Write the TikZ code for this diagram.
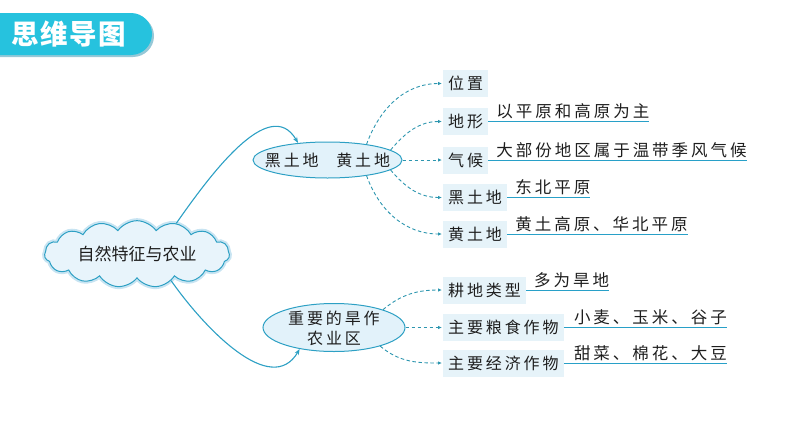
\documentclass[tikz,border=0pt]{standalone}
\usepackage{fontspec}
\setmainfont{Noto Sans CJK SC}
\newfontfamily\kai[LetterSpace=18]{Noto Sans CJK SC}
\newfontfamily\ttlfont[LetterSpace=6]{Noto Sans CJK SC}
\usetikzlibrary{shapes.symbols,shapes.geometric,arrows.meta}
\definecolor{titlec}{RGB}{38,194,222}
\definecolor{titleshadow}{RGB}{150,200,215}
\definecolor{linec}{RGB}{45,160,196}
\definecolor{dashc}{RGB}{45,150,175}
\definecolor{boxfill}{RGB}{230,243,249}
\definecolor{ellfill}{RGB}{226,242,250}
\definecolor{cloudfill}{RGB}{232,244,251}
\definecolor{cloudglow}{RGB}{200,228,242}
\definecolor{ulc}{RGB}{40,160,200}
\definecolor{txt}{RGB}{30,30,30}
\begin{document}
\begin{tikzpicture}[x=1pt,y=1pt,
  bx/.style={fill=boxfill, inner xsep=5pt, inner ysep=0pt, minimum height=27pt, anchor=west, text=txt, font=\kai\fontsize{16}{16}\selectfont},
  ans/.style={inner sep=0pt, anchor=base west, text=txt, font=\kai\fontsize{16.5}{16.5}\selectfont},
  uline/.style={draw=ulc, line width=1pt},
  ellbox/.style={ellipse, draw=linec, fill=ellfill, line width=1pt, inner sep=0pt},
  elltxt/.style={inner sep=0pt, text=txt, align=center, font=\kai\fontsize{16}{20}\selectfont},
  dasharrow/.style={draw=dashc, dash pattern=on 3.5pt off 2.5pt, line width=0.9pt, -{Latex[length=4pt,width=3.5pt]}, shorten >=1pt},
  link/.style={draw=linec, line width=1.1pt, -{Stealth[length=6pt,width=4.5pt]}}
]
\useasboundingbox (0,0) rectangle (794,-447);
% title banner
\fill[titleshadow] (0,-15) -- (133,-15) arc[start angle=90,end angle=-90,radius=21] -- (0,-57) -- cycle;
\fill[titlec] (0,-13) -- (131,-13) arc[start angle=90,end angle=-90,radius=21] -- (0,-55) -- cycle;
\node[text=white, inner sep=0pt, anchor=west, font=\ttlfont\bfseries\fontsize{27.5}{27.5}\selectfont] (ttl) at (11,-34) {思维导图};
% cloud
\node[cloud, cloud puffs=15, cloud puff arc=110, aspect=3.4, draw=linec, fill=cloudfill, line width=1pt,
  preaction={draw=cloudglow, line width=5pt},
  minimum width=185pt, minimum height=58pt, inner sep=0pt, text=txt, font=\fontsize{17}{17}\selectfont] (cl) at (137,-254) {自然特征与农业};
% ellipses
\node[ellbox, minimum width=149pt, minimum height=36pt] (e1) at (327.5,-160) {};
\node[elltxt] (e1t) at (e1.center) {黑土地\hspace{1.1em}黄土地};
\node[ellbox, minimum width=142pt, minimum height=48pt] (e2) at (334,-327.5) {};
\node[elltxt] (e2t) at ([yshift=-1pt]e2.center) {重要的旱作\\农业区};
% solid links
\draw[link] (cl.38) to[out=55,in=120,looseness=1] (e1.150);
\draw[link] (cl.-38) to[out=-55,in=-120,looseness=1] (e2.212);
% boxes upper
\node[bx] (b1) at (443,-83.5) {位置};
\node[bx] (b2) at (443,-121.5) {地形};
\node[bx] (b3) at (443,-160) {气候};
\node[bx] (b4) at (443,-197.5) {黑土地};
\node[bx] (b5) at (443,-234) {黄土地};
% boxes lower
\node[bx] (c1) at (443,-290) {耕地类型};
\node[bx] (c2) at (443,-327.5) {主要粮食作物};
\node[bx] (c3) at (443,-363) {主要经济作物};
% answers
\node[ans] (a2) at ([xshift=8pt,yshift=4pt]b2.east) {以平原和高原为主};
\node[ans] (a3) at ([xshift=8pt,yshift=4pt]b3.east) {大部份地区属于温带季风气候};
\node[ans] (a4) at ([xshift=8pt,yshift=4pt]b4.east) {东北平原};
\node[ans] (a5) at ([xshift=8pt,yshift=4pt]b5.east) {黄土高原、华北平原};
\node[ans] (d1) at ([xshift=8pt,yshift=4pt]c1.east) {多为旱地};
\node[ans] (d2) at ([xshift=10pt,yshift=4pt]c2.east) {小麦、玉米、谷子};
\node[ans] (d3) at ([xshift=10pt,yshift=4pt]c3.east) {甜菜、棉花、大豆};
\draw[uline] (b2.east) -- (a2.east |- b2.east);
\draw[uline] (b3.east) -- (a3.east |- b3.east);
\draw[uline] (b4.east) -- (a4.east |- b4.east);
\draw[uline] (b5.east) -- (a5.east |- b5.east);
\draw[uline] (c1.east) -- (d1.east |- c1.east);
\draw[uline] (c2.east) -- (d2.east |- c2.east);
\draw[uline] (c3.east) -- (d3.east |- c3.east);
% dashed connectors
\draw[dasharrow] (e1.22) to[out=70,in=180] (b1.west);
\draw[dasharrow] (e1.9) to[out=50,in=180] (b2.west);
\draw[dasharrow] (e1.east) -- (b3.west);
\draw[dasharrow] (e1.-9) to[out=-50,in=180] (b4.west);
\draw[dasharrow] (e1.-22) to[out=-70,in=180] (b5.west);
\draw[dasharrow] (e2.20) to[out=40,in=180] (c1.west);
\draw[dasharrow] (e2.east) -- (c2.west);
\draw[dasharrow] (e2.-22) to[out=-40,in=180] (c3.west);
\end{tikzpicture}
\end{document}
